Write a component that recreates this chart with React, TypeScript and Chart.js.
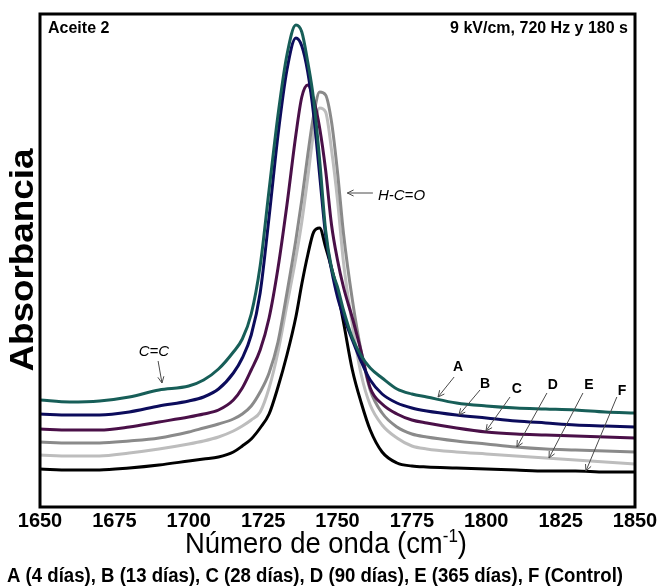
import React, { useEffect, useRef } from 'react';
import { Chart, registerables } from 'chart.js';
Chart.register(...registerables);

const FONT = '"Liberation Sans", Arial, sans-serif';

const wavenumbers = [1650, 1660, 1670, 1680, 1690, 1700, 1705, 1710, 1715, 1718, 1721, 1724, 1727, 1730, 1733, 1736, 1738, 1740, 1742, 1744, 1746, 1748, 1750, 1752, 1755, 1758, 1761, 1765, 1770, 1775, 1780, 1790, 1800, 1810, 1820, 1830, 1840, 1850];

const seriesA = [0.107, 0.105, 0.106, 0.110, 0.117, 0.121, 0.127, 0.138, 0.155, 0.168, 0.193, 0.241, 0.317, 0.392, 0.452, 0.482, 0.475, 0.445, 0.407, 0.347, 0.277, 0.239, 0.220, 0.197, 0.169, 0.151, 0.139, 0.129, 0.118, 0.113, 0.110, 0.104, 0.101, 0.099, 0.098, 0.097, 0.095, 0.094];
const seriesB = [0.093, 0.092, 0.092, 0.095, 0.101, 0.106, 0.110, 0.118, 0.134, 0.149, 0.172, 0.214, 0.290, 0.372, 0.437, 0.469, 0.461, 0.435, 0.392, 0.332, 0.272, 0.237, 0.210, 0.191, 0.167, 0.145, 0.127, 0.113, 0.104, 0.099, 0.096, 0.092, 0.089, 0.086, 0.084, 0.082, 0.081, 0.080];
const seriesC = [0.078, 0.077, 0.077, 0.080, 0.085, 0.090, 0.093, 0.097, 0.107, 0.119, 0.137, 0.157, 0.189, 0.239, 0.302, 0.372, 0.410, 0.422, 0.407, 0.379, 0.337, 0.282, 0.247, 0.220, 0.189, 0.155, 0.119, 0.103, 0.093, 0.087, 0.084, 0.079, 0.075, 0.073, 0.072, 0.071, 0.070, 0.069];
const seriesD = [0.065, 0.064, 0.064, 0.066, 0.069, 0.075, 0.079, 0.083, 0.088, 0.093, 0.101, 0.115, 0.134, 0.165, 0.214, 0.267, 0.307, 0.352, 0.392, 0.415, 0.412, 0.385, 0.335, 0.274, 0.207, 0.155, 0.117, 0.094, 0.080, 0.073, 0.070, 0.066, 0.063, 0.060, 0.058, 0.057, 0.056, 0.055];
const seriesE = [0.052, 0.051, 0.051, 0.054, 0.058, 0.063, 0.066, 0.070, 0.076, 0.081, 0.087, 0.095, 0.119, 0.155, 0.202, 0.249, 0.285, 0.329, 0.375, 0.399, 0.395, 0.357, 0.307, 0.245, 0.182, 0.132, 0.102, 0.082, 0.069, 0.061, 0.058, 0.055, 0.053, 0.051, 0.049, 0.047, 0.045, 0.043];
const seriesF = [0.038, 0.037, 0.037, 0.039, 0.042, 0.046, 0.048, 0.050, 0.055, 0.061, 0.068, 0.079, 0.093, 0.120, 0.152, 0.190, 0.223, 0.252, 0.275, 0.279, 0.260, 0.239, 0.215, 0.185, 0.137, 0.104, 0.077, 0.055, 0.044, 0.041, 0.040, 0.039, 0.038, 0.037, 0.036, 0.036, 0.035, 0.035];

const seriesNames = ['A (4 días)', 'B (13 días)', 'C (28 días)', 'D (90 días)', 'E (365 días)', 'F (Control)'];
const seriesColors = ['#175E58', '#0C0C5C', '#4A1048', '#8A8A8A', '#BDBDBD', '#000000'];
const xTicks = [1650, 1675, 1700, 1725, 1750, 1775, 1800, 1825, 1850];

const titleLeft = 'Aceite 2';
const titleRight = '9 kV/cm, 720 Hz y 180 s';
const yTitle = 'Absorbancia';
const xTitleMain = 'Número de onda (cm';
const xTitleSup = '-1';
const caption = 'A (4 días), B (13 días), C (28 días), D (90 días), E (365 días), F (Control)';

// annotations in data coordinates: label position, arrow start, arrow end (head)
const annotations = [
  { text: 'C=C', italic: true, label: [1688.3, 0.155], from: [1689.7, 0.146], to: [1691.0, 0.124], align: 'center' },
  { text: 'H-C=O', italic: true, label: [1763.6, 0.311], from: [1761.9, 0.314], to: [1753.3, 0.314], align: 'left' },
  { text: 'A', label: [1790.5, 0.140], from: [1789.2, 0.130], to: [1783.8, 0.110], align: 'center' },
  { text: 'B', label: [1799.6, 0.123], from: [1797.9, 0.117], to: [1790.8, 0.092], align: 'center' },
  { text: 'C', label: [1810.3, 0.118], from: [1808.0, 0.110], to: [1799.9, 0.076], align: 'center' },
  { text: 'D', label: [1822.4, 0.122], from: [1820.4, 0.114], to: [1810.3, 0.060], align: 'center' },
  { text: 'E', label: [1834.5, 0.122], from: [1832.5, 0.114], to: [1821.1, 0.049], align: 'center' },
  { text: 'F', label: [1845.6, 0.116], from: [1843.9, 0.110], to: [1833.5, 0.036], align: 'center' },
];

const seriesValues = [seriesA, seriesB, seriesC, seriesD, seriesE, seriesF];

function drawFitted(ctx: CanvasRenderingContext2D, text: string, cx: number, by: number, font: string, width: number) {
  ctx.save();
  ctx.font = font;
  const w = ctx.measureText(text).width;
  ctx.translate(cx, by);
  ctx.scale(width / w, 1);
  ctx.textAlign = 'center';
  ctx.textBaseline = 'alphabetic';
  ctx.fillText(text, 0, 0);
  ctx.restore();
}

const decorPlugin = {
  id: 'decor',
  afterDraw(chart: any) {
    const ctx: CanvasRenderingContext2D = chart.ctx;
    const { left, right, top, bottom } = chart.chartArea;
    const xs = chart.scales.x;
    const ys = chart.scales.y;
    ctx.save();
    // frame
    ctx.strokeStyle = '#000';
    ctx.lineWidth = 3;
    ctx.strokeRect(left, top, right - left, bottom - top);

    // inner titles
    ctx.fillStyle = '#000';
    ctx.font = `bold 16px ${FONT}`;
    ctx.textBaseline = 'middle';
    ctx.textAlign = 'left';
    ctx.fillText(titleLeft, left + 8, top + 15);
    ctx.textAlign = 'right';
    ctx.fillText(titleRight, right - 7, top + 15);

    // annotations
    for (const a of annotations) {
      const x1 = xs.getPixelForValue(a.from[0]);
      const y1 = ys.getPixelForValue(a.from[1]);
      const x2 = xs.getPixelForValue(a.to[0]);
      const y2 = ys.getPixelForValue(a.to[1]);
      ctx.strokeStyle = '#4a4a4a';
      ctx.lineWidth = 1;
      ctx.beginPath();
      ctx.moveTo(x1, y1);
      ctx.lineTo(x2, y2);
      const ang = Math.atan2(y2 - y1, x2 - x1);
      const hl = 7;
      ctx.moveTo(x2 - hl * Math.cos(ang - 0.45), y2 - hl * Math.sin(ang - 0.45));
      ctx.lineTo(x2, y2);
      ctx.lineTo(x2 - hl * Math.cos(ang + 0.45), y2 - hl * Math.sin(ang + 0.45));
      ctx.stroke();
      const lx = xs.getPixelForValue(a.label[0]);
      const ly = ys.getPixelForValue(a.label[1]);
      ctx.fillStyle = '#000';
      ctx.font = a.italic ? `italic 15px ${FONT}` : `bold 14px ${FONT}`;
      ctx.textAlign = a.align as CanvasTextAlign;
      ctx.textBaseline = 'middle';
      ctx.fillText(a.text, lx, ly);
    }

    // y title
    ctx.save();
    ctx.translate(33, 260);
    ctx.rotate(-Math.PI / 2);
    drawFitted(ctx, yTitle, 0, 0, `bold 34px ${FONT}`, 223);
    ctx.restore();

    // x title with superscript
    {
      const mainFont = `29px ${FONT}`;
      const supFont = `18px ${FONT}`;
      ctx.font = mainFont;
      const w1 = ctx.measureText(xTitleMain).width;
      const w3 = ctx.measureText(')').width;
      ctx.font = supFont;
      const w2 = ctx.measureText(xTitleSup).width;
      const total = w1 + w2 + w3;
      const target = 282;
      const cx = 326;
      const by = 553;
      ctx.save();
      ctx.translate(cx, by);
      ctx.scale(target / total, 1);
      ctx.textAlign = 'left';
      ctx.textBaseline = 'alphabetic';
      ctx.fillStyle = '#000';
      ctx.font = mainFont;
      ctx.fillText(xTitleMain, -total / 2, 0);
      ctx.font = supFont;
      ctx.fillText(xTitleSup, -total / 2 + w1, -11);
      ctx.font = mainFont;
      ctx.fillText(')', -total / 2 + w1 + w2, 0);
      ctx.restore();
    }

    // caption
    drawFitted(ctx, caption, 315, 582, `bold 20px ${FONT}`, 616);
    ctx.restore();
  },
};

export default function App() {
  const ref = useRef<HTMLCanvasElement | null>(null);
  useEffect(() => {
    if (!ref.current) return;
    const chart = new Chart(ref.current, {
      type: 'line',
      data: {
        datasets: seriesValues.map((vals, i) => ({
          label: seriesNames[i],
          data: wavenumbers.map((x, j) => ({ x, y: vals[j] })),
          borderColor: seriesColors[i],
          backgroundColor: seriesColors[i],
          borderWidth: 3,
          pointRadius: 0,
          fill: false,
          cubicInterpolationMode: 'monotone' as const,
        })),
      },
      options: {
        animation: false,
        responsive: false,
        events: [],
        layout: { padding: { left: 40, right: 25, top: 14, bottom: 0 } },
        plugins: { legend: { display: false }, tooltip: { enabled: false }, title: { display: false } },
        scales: {
          x: {
            type: 'linear',
            min: 1650,
            max: 1850,
            grid: { display: false, drawTicks: false },
            border: { display: false },
            ticks: {
              padding: 2,
              color: '#000',
              font: { family: FONT, size: 20, weight: 'bold' },
              callback: (v: any) => String(v),
            },
            afterBuildTicks: (s: any) => { s.ticks = xTicks.map((v) => ({ value: v })); },
            afterFit: (s: any) => { s.height = 79; },
          },
          y: {
            type: 'linear',
            display: false,
            min: 0,
            max: 0.493,
          },
        },
      },
      plugins: [decorPlugin],
    });
    return () => chart.destroy();
  }, []);
  return (
    <div style={{ position: 'absolute', left: 0, top: 0, width: 660, height: 586, background: '#fff' }}>
      <canvas ref={ref} width={660} height={586} style={{ display: 'block' }} />
    </div>
  );
}
